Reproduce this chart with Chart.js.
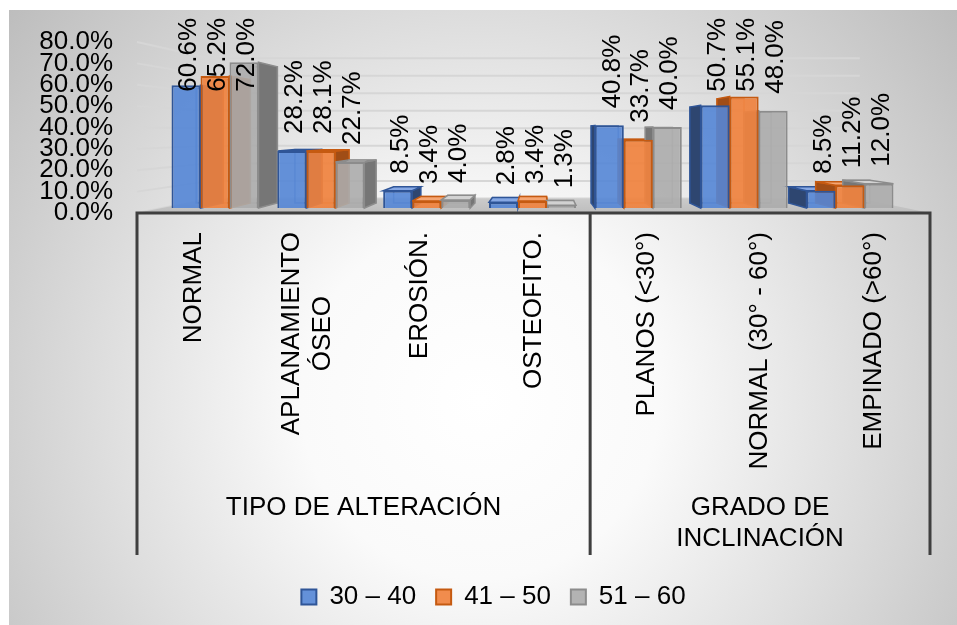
<!DOCTYPE html>
<html lang="es">
<head>
<meta charset="utf-8">
<title>Alteraciones por grupo de edad</title>
<script src="https://cdn.jsdelivr.net/npm/chart.js@4.4.1/dist/chart.umd.min.js"></script>
<style>
  html, body { margin: 0; padding: 0; background: #ffffff; }
  canvas { display: block; }
</style>
</head>
<body>
<canvas id="chart" width="957" height="625"></canvas>
<script>
// Categories on the horizontal axis (entries with two strings are drawn on two lines)
const categories = [
  ['NORMAL'],
  ['APLANAMIENTO', 'ÓSEO'],
  ['EROSIÓN.'],
  ['OSTEOFITO.'],
  ['PLANOS (<30°)'],
  ['NORMAL (30° - 60°)'],
  ['EMPINADO (>60°)']
];
// Outer level of the category axis
const groupLabels = [['TIPO DE ALTERACIÓN'], ['GRADO DE', 'INCLINACIÓN']];
const groupFirst = [0, 4];
const groupLast = [3, 6];

// Age groups and their percentages
const seriesNames = ['30 – 40', '41 – 50', '51 – 60'];
const age30to40 = [60.6, 28.2, 8.5, 2.8, 40.8, 50.7, 8.5];
const age41to50 = [65.2, 28.1, 3.4, 3.4, 33.7, 55.1, 11.2];
const age51to60 = [72.0, 22.7, 4.0, 1.3, 40.0, 48.0, 12.0];

// Value axis ticks
const yTicks = [0, 10, 20, 30, 40, 50, 60, 70, 80];

const seriesValues = [age30to40, age41to50, age51to60];

const FONT = '"Liberation Sans", Arial, Helvetica, sans-serif';
const TEXT_SIZE = 26;
const INK = '#000000';
const AXIS_COLOR = '#3f3f3f';

const faces = [
  { front: 'rgba(84,134,214,0.9)',  edge: '#2f5597', side: '#2e4670', top: '#86a8e4' },
  { front: 'rgba(240,130,62,0.92)', edge: '#c55a11', side: '#a04d16', top: '#f5a673' },
  { front: 'rgba(172,172,172,0.9)', edge: '#8c8c8c', side: '#767676', top: '#d2d2d2' }
];

// One-point perspective used for the walls, the floor and the column depth
const VIEW = { x: 540, y: 132, wall: 0.82, column: 0.933 };
const PLOT_BOTTOM = 213;          // front edge of the floor
const PAD_BOTTOM = 5;
const LABEL_GAP = 17;             // space between a column top and its value label
const LABEL_CEIL = 18;            // value labels never rise above this line
const CAT_TOP = PLOT_BOTTOM + 19; // where the rotated category names end
const GROUP_Y = 508;              // first line of the outer category level
const GROUP_LINE = 31;
const DIVIDER_BOTTOM = 555;

function toBack(px, py, s) {
  return [VIEW.x + (px - VIEW.x) * s, VIEW.y + (py - VIEW.y) * s];
}

function fillPoly(ctx, pts, fill, stroke) {
  ctx.beginPath();
  ctx.moveTo(pts[0][0], pts[0][1]);
  for (let i = 1; i < pts.length; i++) ctx.lineTo(pts[i][0], pts[i][1]);
  ctx.closePath();
  if (fill) { ctx.fillStyle = fill; ctx.fill(); }
  if (stroke) { ctx.strokeStyle = stroke; ctx.stroke(); }
}

// Chart background: soft radial shading inside a panel
const panel = {
  id: 'panel',
  beforeDraw(chart) {
    const { ctx, width, height } = chart;
    ctx.save();
    ctx.fillStyle = '#ffffff';
    ctx.fillRect(0, 0, width, height);
    const g = ctx.createRadialGradient(480, 400, 0, 480, 400, 640);
    g.addColorStop(0, '#ffffff');
    g.addColorStop(0.28, '#fafafa');
    g.addColorStop(1, '#b9b9b9');
    ctx.fillStyle = g;
    ctx.fillRect(9, 10, width - 9, height - 10);
    ctx.restore();
  }
};

// Side wall, back wall gridlines, floor and the hidden faces of the columns
const room = {
  id: 'room',
  beforeDatasetsDraw(chart) {
    const { ctx, chartArea: a, scales } = chart;
    const y = scales.y;
    const cl = toBack(a.left, 0, VIEW.wall)[0];
    const cr = toBack(a.right, 0, VIEW.wall)[0];
    ctx.save();
    ctx.strokeStyle = '#d6d6d6';
    ctx.lineWidth = 2;
    yTicks.forEach(v => {
      const yl = y.getPixelForValue(v);
      const yb = toBack(0, yl, VIEW.wall)[1];
      ctx.beginPath();
      ctx.moveTo(a.left, yl);
      ctx.lineTo(cl, yb);
      ctx.lineTo(cr, yb);
      ctx.stroke();
    });

    const fy = toBack(0, a.bottom, VIEW.wall)[1];
    const fg = ctx.createLinearGradient(0, fy, 0, a.bottom);
    fg.addColorStop(0, '#cbcbcb');
    fg.addColorStop(1, '#bdbdbd');
    fillPoly(ctx, [[a.left, a.bottom], [a.right, a.bottom], [cr, fy], [cl, fy]], fg);

    ctx.lineWidth = 1.5;
    chart.data.datasets.forEach((ds, s) => {
      const meta = chart.getDatasetMeta(s);
      const f = faces[s];
      meta.data.forEach(bar => {
        const { x, y: top, base, width } = bar.getProps(['x', 'y', 'base', 'width'], true);
        const x0 = x - width / 2, x1 = x + width / 2;
        const [bx0, bt] = toBack(x0, top, VIEW.column);
        const [bx1, bb] = toBack(x1, base, VIEW.column);
        // rear outline, seen through the translucent front
        ctx.strokeStyle = f.edge;
        ctx.globalAlpha = 0.55;
        ctx.strokeRect(bx0, bt, bx1 - bx0, bb - bt);
        ctx.globalAlpha = 1;
        // visible side
        const sx = x < VIEW.x ? x1 : x0;
        const bsx = toBack(sx, 0, VIEW.column)[0];
        fillPoly(ctx, [[sx, top], [bsx, bt], [bsx, bb], [sx, base]], f.side, f.edge);
        // top, visible when the column is below eye level
        if (top > VIEW.y) {
          fillPoly(ctx, [[x0, top], [x1, top], [bx1, bt], [bx0, bt]], f.top, f.edge);
        }
      });
    });
    ctx.restore();
  }
};

// Rotated value labels over the columns
const valueLabels = {
  id: 'valueLabels',
  afterDatasetsDraw(chart) {
    const { ctx } = chart;
    ctx.save();
    ctx.font = `${TEXT_SIZE}px ${FONT}`;
    ctx.fillStyle = INK;
    ctx.textAlign = 'left';
    ctx.textBaseline = 'middle';
    chart.data.datasets.forEach((ds, s) => {
      chart.getDatasetMeta(s).data.forEach((bar, i) => {
        const text = seriesValues[s][i].toFixed(1) + '%';
        const w = ctx.measureText(text).width;
        const start = Math.max(bar.y - LABEL_GAP, LABEL_CEIL + w);
        ctx.save();
        ctx.translate(bar.x + 3, start);
        ctx.rotate(-Math.PI / 2);
        ctx.fillText(text, 0, 0);
        ctx.restore();
      });
    });
    ctx.restore();
  }
};

// Two-level category axis: rotated names, group names and separators
const categoryAxis = {
  id: 'categoryAxis',
  afterDraw(chart) {
    const { ctx, chartArea: a, scales } = chart;
    const x = scales.x;
    ctx.save();
    ctx.font = `${TEXT_SIZE}px ${FONT}`;
    ctx.fillStyle = INK;
    ctx.textBaseline = 'middle';
    ctx.textAlign = 'center';
    const lineH = TEXT_SIZE * 1.2;

    categories.forEach((lines, i) => {
      const xc = x.getPixelForTick(i);
      const maxW = Math.max(...lines.map(t => ctx.measureText(t).width));
      ctx.save();
      ctx.translate(xc, CAT_TOP);
      ctx.rotate(-Math.PI / 2);
      lines.forEach((t, k) => {
        ctx.fillText(t, -maxW / 2, (k - (lines.length - 1) / 2) * lineH);
      });
      ctx.restore();
    });

    const band = (x.getPixelForTick(1) - x.getPixelForTick(0));
    const edges = [a.left];
    groupLabels.forEach((lines, g) => {
      const left = x.getPixelForTick(groupFirst[g]) - band / 2;
      const right = x.getPixelForTick(groupLast[g]) + band / 2;
      const cx = (left + right) / 2;
      lines.forEach((t, k) => ctx.fillText(t, cx, GROUP_Y + k * GROUP_LINE));
      edges.push(right);
    });

    ctx.strokeStyle = AXIS_COLOR;
    ctx.lineWidth = 3;
    ctx.beginPath();
    ctx.moveTo(a.left - 1.5, a.bottom);
    ctx.lineTo(a.right + 1.5, a.bottom);
    edges.forEach(ex => {
      ctx.moveTo(ex, a.bottom);
      ctx.lineTo(ex, DIVIDER_BOTTOM);
    });
    ctx.stroke();
    ctx.restore();
  }
};

new Chart(document.getElementById('chart'), {
  type: 'bar',
  data: {
    labels: categories,
    datasets: seriesValues.map((vals, s) => ({
      label: seriesNames[s],
      data: vals.map((v, i) => ({ x: i, y: v })),
      xAxisID: 'xb',
      yAxisID: 'yb',
      backgroundColor: faces[s].front,
      borderColor: faces[s].edge,
      borderWidth: 2,
      categoryPercentage: 0.822,
      barPercentage: 1.0
    }))
  },
  options: {
    responsive: false,
    animation: false,
    devicePixelRatio: 1,
    layout: { padding: { left: 30, right: 0, top: 42, bottom: PAD_BOTTOM } },
    plugins: {
      legend: {
        position: 'bottom',
        labels: {
          font: { family: FONT, size: TEXT_SIZE },
          color: INK,
          boxWidth: 15,
          boxHeight: 15,
          padding: 20
        }
      },
      tooltip: { enabled: false }
    },
    scales: {
      x: {
        type: 'category',
        position: 'bottom',
        offset: true,
        grid: { display: false, drawTicks: false },
        border: { display: false },
        ticks: { display: false },
        afterFit(s) {
          const legendH = s.chart.legend ? s.chart.legend.height : 0;
          s.height = s.chart.height - PLOT_BOTTOM - PAD_BOTTOM - legendH;
        }
      },
      xb: {
        type: 'linear',
        display: false,
        offset: false,
        min: -0.737,
        max: 6.756,
        afterBuildTicks(s) { s.ticks = categories.map((c, i) => ({ value: i })); }
      },
      y: {
        position: 'left',
        min: 0,
        max: 80,
        afterBuildTicks(s) { s.ticks = yTicks.map(v => ({ value: v })); },
        ticks: {
          autoSkip: false,
          padding: 24,
          color: INK,
          font: { family: FONT, size: TEXT_SIZE },
          callback: v => v.toFixed(1) + '%'
        },
        grid: { display: false, drawTicks: false },
        border: { display: false },
        afterFit(s) { s.width = 107; }
      },
      yb: {
        position: 'right',
        min: -2.47,
        max: 81.97,
        ticks: { display: false },
        grid: { display: false, drawTicks: false },
        border: { display: false },
        afterFit(s) { s.width = 27; }
      }
    }
  },
  plugins: [panel, room, valueLabels, categoryAxis]
});
</script>
</body>
</html>
